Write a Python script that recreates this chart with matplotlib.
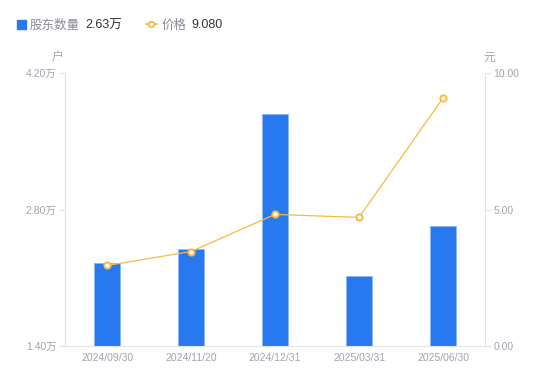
import matplotlib
matplotlib.use("Agg")
import matplotlib.pyplot as plt
from matplotlib.lines import Line2D
from matplotlib.patches import Rectangle

plt.rcParams['font.family'] = ['Liberation Sans', 'Noto Sans CJK SC', 'DejaVu Sans']

dates = ["2024/09/30", "2024/11/20", "2024/12/31", "2025/03/31", "2025/06/30"]
holders = [2.25, 2.39, 3.78, 2.12, 2.63]   # 万户
price = [2.95, 3.46, 4.82, 4.71, 9.08]      # 元
left_ticks = [1.40, 2.80, 4.20]
right_ticks = [0.0, 5.0, 10.0]

bar_color = "#2878F0"
line_color = "#F7B844"
axis_color = "#E0E3E8"
tick_text = "#A0A4AE"

fig = plt.figure(figsize=(5.5, 3.81), dpi=100)
ax = fig.add_axes([65/550, 35/381, 420/550, 273/381])
ax2 = ax.twinx()

x = list(range(len(dates)))
ax.bar(x, holders, width=0.3, color=bar_color, edgecolor="#8DB8F7", linewidth=0.6, zorder=2)
ax.set_ylim(1.4, 4.2)
ax.set_xlim(-0.5, 4.5)
ax.set_yticks(left_ticks)
ax.set_yticklabels([f"{v:.2f}万" for v in left_ticks])
ax.set_xticks(x)
ax.set_xticklabels(dates)

ax2.plot(x, price, color=line_color, linewidth=0.9, marker="o", markersize=4.5,
         markerfacecolor="white", markeredgecolor=line_color, markeredgewidth=1.4, zorder=3)
ax2.set_ylim(0, 10)
ax2.set_yticks(right_ticks)
ax2.set_yticklabels([f"{v:.2f}" for v in right_ticks])

for a in (ax, ax2):
    for s in a.spines.values():
        s.set_visible(False)
    a.tick_params(colors=axis_color, labelcolor=tick_text, labelsize=7.5, width=0.8, length=4)
ax.spines['left'].set_visible(True)
ax.spines['left'].set_color(axis_color)
ax.spines['bottom'].set_visible(True)
ax.spines['bottom'].set_color(axis_color)
ax2.spines['right'].set_visible(True)
ax2.spines['right'].set_color(axis_color)
ax.tick_params(axis='x', length=0, pad=5)
ax.tick_params(axis='y', pad=2)
ax2.tick_params(axis='y', pad=2)

fig.text(58/550, 1 - 58/381, "户", fontsize=8.5, color=tick_text, ha="center", va="center")
fig.text(489/550, 1 - 58/381, "元", fontsize=8.5, color=tick_text, ha="center", va="center")

# Legend
ly = 1 - 24/381
fig.patches.append(Rectangle((17/550, 1 - 29/381), 9/550, 9/381, transform=fig.transFigure,
                             color=bar_color, figure=fig))
fig.text(30/550, ly, "股东数量", fontsize=9, color="#888C96", va="center_baseline")
fig.text(85/550, ly, f"{holders[-1]:.2f}万", fontsize=9, color="#333333", va="center_baseline")
fig.lines.append(Line2D([146/550, 151/550, 157/550], [ly] * 3, transform=fig.transFigure,
                        color=line_color, linewidth=1.2, marker="o", markersize=4,
                        markevery=[1], markerfacecolor="white", markeredgecolor=line_color,
                        markeredgewidth=1.3))
fig.text(162/550, ly, "价格", fontsize=9, color="#888C96", va="center_baseline")
fig.text(191/550, ly, f"{price[-1]:.3f}", fontsize=9, color="#333333", va="center_baseline")

fig.savefig("out.png", dpi=100)
